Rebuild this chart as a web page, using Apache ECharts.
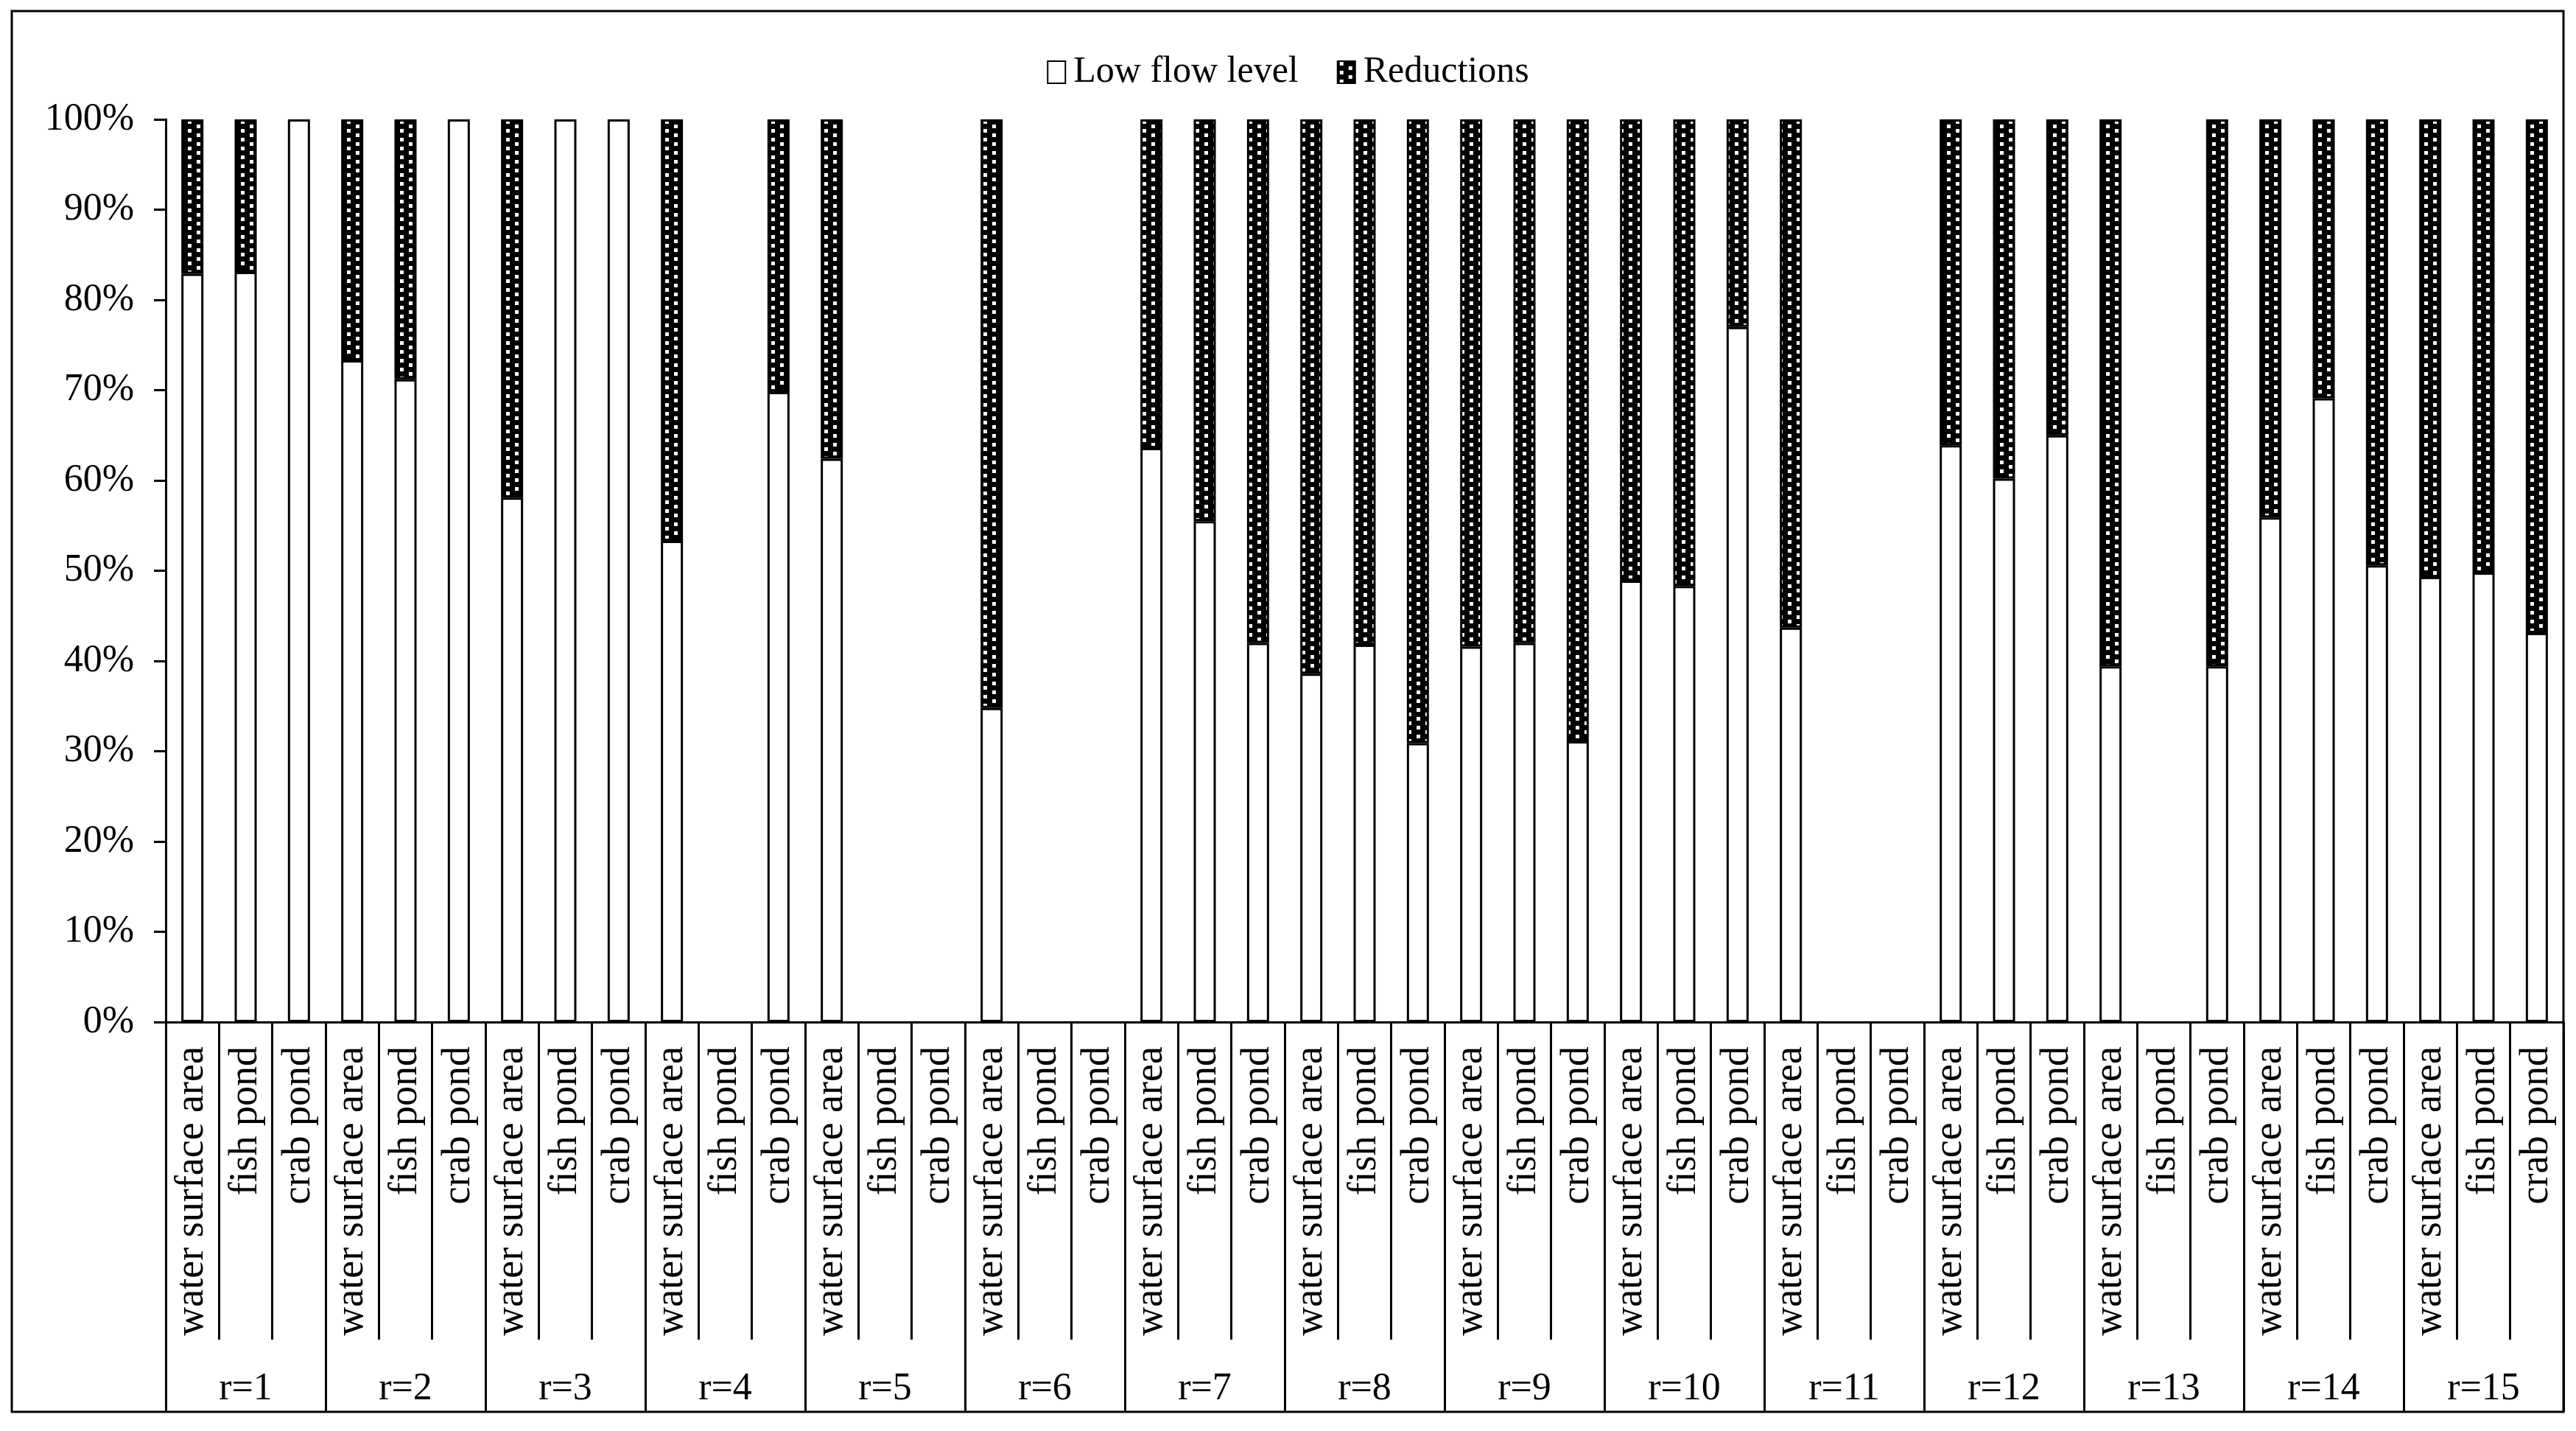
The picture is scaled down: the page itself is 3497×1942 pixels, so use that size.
<!DOCTYPE html>
<html>
<head>
<meta charset="utf-8">
<script src="https://cdn.jsdelivr.net/npm/echarts@6/dist/echarts.min.js"></script>
<style>
html,body{margin:0;padding:0;background:#fff;}
#chart{width:3497px;height:1942px;}
</style>
</head>
<body>
<div id="chart"></div>
<script>
const groups = ['r=1','r=2','r=3','r=4','r=5','r=6','r=7','r=8','r=9','r=10','r=11','r=12','r=13','r=14','r=15'];
const subs = ['water surface area','fish pond','crab pond'];
const seriesNames = ['Low flow level','Reductions'];
const yTicks = [0,10,20,30,40,50,60,70,80,90,100];

const lowFlow = [
  82.9, 83.1, 100,
  73.3, 71.2, 100,
  58.1, 100, 100,
  53.3, null, 69.8,
  62.4, null, null,
  34.8, null, null,
  63.6, 55.5, 42.0,
  38.6, 41.8, 30.9,
  41.6, 42.0, 31.1,
  48.9, 48.3, 77.0,
  43.7, null, null,
  63.9, 60.2, 65.0,
  39.4, null, 39.4,
  55.9, 69.1, 50.6,
  49.3, 49.8, 43.1
];
const reductions = [
  17.1, 16.9, null,
  26.7, 28.8, null,
  41.9, null, null,
  46.7, null, 30.2,
  37.6, null, null,
  65.2, null, null,
  36.4, 44.5, 58.0,
  61.4, 58.2, 69.1,
  58.4, 58.0, 68.9,
  51.1, 51.7, 23.0,
  56.3, null, null,
  36.1, 39.8, 35.0,
  60.6, null, 60.6,
  44.1, 30.9, 49.4,
  50.7, 50.2, 56.9
];

const categories = [];
groups.forEach(g => subs.forEach(s => categories.push(s)));

// dotted black pattern
const pc = document.createElement('canvas');
pc.width = 24; pc.height = 12;
const ctx = pc.getContext('2d');
ctx.fillStyle = '#000'; ctx.fillRect(0,0,24,12);
ctx.fillStyle = '#fff';
ctx.fillRect(3,1,5,5);
ctx.fillRect(15,7,5,5);

const FONT = 'Liberation Serif';
const chart = echarts.init(document.getElementById('chart'), null, {renderer:'canvas'});

const option = {
  backgroundColor: '#fff',
  animation: false,
  textStyle: {fontFamily: FONT, color: '#000'},
  legend: {
    top: 68,
    left: 'center',
    itemWidth: 24,
    itemHeight: 30,
    itemGap: 52,
    icon: 'rect',
    textStyle: {fontFamily: FONT, fontSize: 50, color: '#000', padding: [0, 0, 0, 6]},
    data: seriesNames
  },
  grid: {left: 225, right: 17, top: 162, bottom: 555, containLabel: false},
  xAxis: [
    {
      type: 'category',
      data: categories,
      position: 'bottom',
      boundaryGap: true,
      axisLine: {show: true, lineStyle: {color: '#000', width: 3}},
      axisTick: {show: true, interval: 0, length: 431, lineStyle: {color: '#000', width: 3}},
      axisLabel: {interval: 0, rotate: 90, margin: 33, fontSize: 54, fontFamily: FONT, color: '#000'},
      splitLine: {show: false}
    },
    {
      type: 'category',
      data: groups,
      position: 'bottom',
      boundaryGap: true,
      axisLine: {show: false},
      axisTick: {show: true, interval: 0, length: 529, lineStyle: {color: '#000', width: 3}},
      axisLabel: {interval: 0, margin: 472, fontSize: 52, fontFamily: FONT, color: '#000'},
      splitLine: {show: false}
    }
  ],
  yAxis: {
    type: 'value',
    min: yTicks[0],
    max: yTicks[yTicks.length-1],
    interval: 10,
    axisLine: {show: true, lineStyle: {color: '#000', width: 3}},
    axisTick: {show: true, length: 16, lineStyle: {color: '#000', width: 3}},
    axisLabel: {formatter: '{value}%', fontSize: 52, fontFamily: FONT, color: '#000', margin: 43},
    splitLine: {show: false}
  },
  series: [
    {
      name: seriesNames[0],
      type: 'bar',
      stack: 'total',
      barWidth: 30,
      data: lowFlow,
      itemStyle: {color: '#fff', borderColor: '#000', borderWidth: 3}
    },
    {
      name: seriesNames[1],
      type: 'bar',
      stack: 'total',
      barWidth: 30,
      data: reductions,
      itemStyle: {color: {image: pc, repeat: 'repeat'}, borderColor: '#000', borderWidth: 3}
    }
  ],
  graphic: [
    {
      type: 'rect',
      shape: {x: 16, y: 15, width: 3464, height: 1901},
      style: {fill: null, stroke: '#000', lineWidth: 3},
      silent: true,
      z: 100
    }
  ]
};
chart.setOption(option);
</script>
</body>
</html>
